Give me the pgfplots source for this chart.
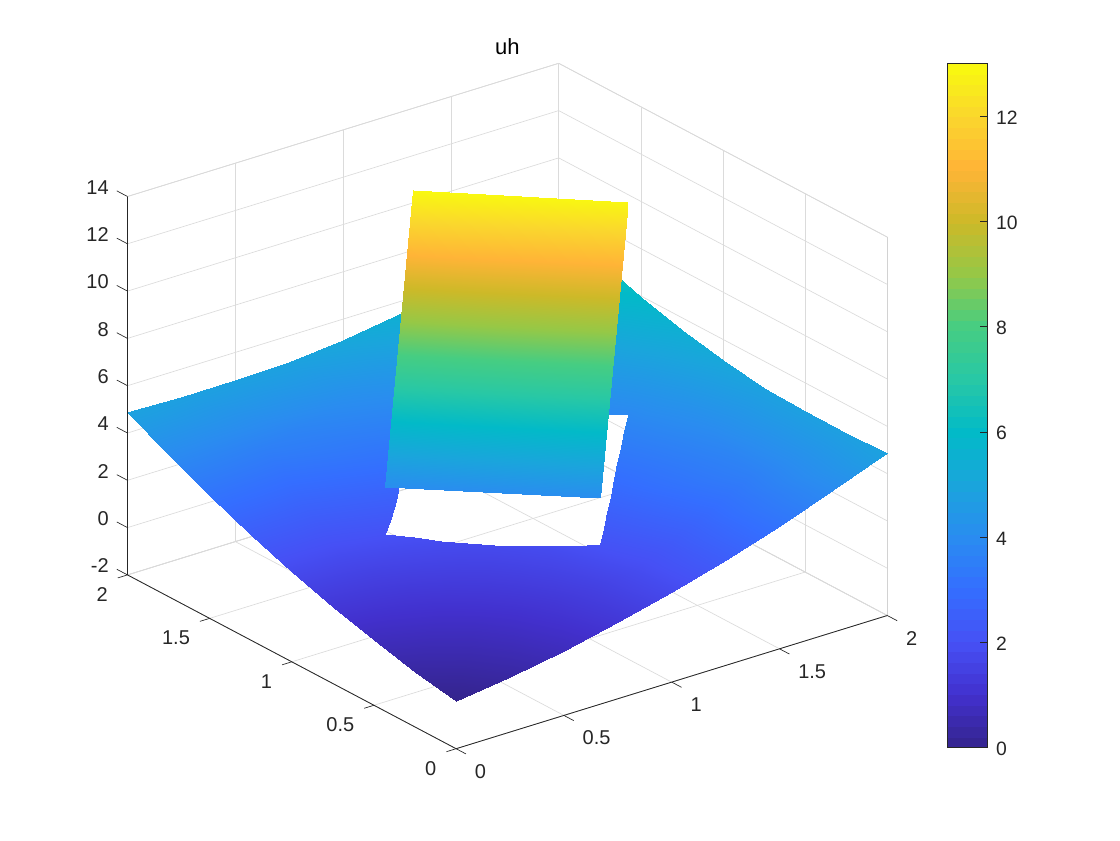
\documentclass[border=0pt]{standalone}
\usepackage{fontspec}
\setmainfont{Liberation Sans}
\usepackage{pgfplots}
\pgfplotsset{compat=1.18}
\definecolor{txt}{gray}{0.15}
\begin{document}
\begin{tikzpicture}
% 1 px of the reference = 0.75pt
\path[use as bounding box] (-95.625pt,47.475pt) rectangle (744.375pt,-582.525pt);
\begin{axis}[
  at={(0pt,0pt)}, anchor=north west,
  x={(161.7pt,49.95pt)}, y={(-123.225pt,65.175pt)}, z={(0pt,17.7375pt)},
  xmin=0, xmax=2, ymin=0, ymax=2, zmin=-2, zmax=14,
  xtick={0,0.5,1,1.5,2}, ytick={0,0.5,1,1.5,2}, ztick={-2,0,...,14},
  clip=false,
  grid=major,
  grid style={line width=0.5pt, gray!28},
  axis line style={line width=0.5pt, gray!35},
  xtick pos=left, ytick pos=left, ztick pos=left,
  major tick length=0pt,
  tick style={draw=none},
  tick label style={font=\fontsize{15}{17}\selectfont, text=txt, inner sep=0pt},
  x tick label style={anchor=west, xshift=13.9pt, yshift=-16.9pt},
  y tick label style={anchor=east, xshift=-14.6pt, yshift=-14.6pt},
  z tick label style={anchor=east, xshift=-13.9pt, yshift=6.8pt},
  /pgf/number format/assume math mode=true,
  title={uh},
  title style={font=\fontsize{16.5}{18}\selectfont, yshift=-3pt},
  point meta min=0, point meta max=13,
  colormap={parula}{
    rgb255=(52,36,140) rgb255=(66,48,205) rgb255=(70,80,245) rgb255=(52,110,255)
    rgb255=(42,140,240) rgb255=(26,165,220) rgb255=(2,186,200) rgb255=(40,200,165)
    rgb255=(70,205,130) rgb255=(150,200,70) rgb255=(205,185,40) rgb255=(255,180,55)
    rgb255=(250,215,45) rgb255=(249,251,14)
  },
  colorbar sampled,
  colorbar style={
    samples=65,
    at={(parent axis.north east)}, anchor=north west, xshift=36.5pt,
    scale only axis, width=30pt, height=513.3pt,
    ytick={0,2,...,12},
    ytick pos=right, ytick align=inside,
    major tick length=5.5pt,
    axis line style={txt, line width=0.6pt},
    tick style={draw=txt, line width=0.5pt},
    tick label style={font=\fontsize{14.5}{16}\selectfont, text=txt, xshift=3pt, yshift=-1pt},
    /pgf/number format/assume math mode=true,
  },
]
% outer surface: ring around the hole, outer edge / middle / edge of the hole
\addplot3[surf, shader=interp, mesh/ordering=x varies] table {
0 0 0
.25 0 .33
.5 0 .74
.75 0 1.23
1 0 1.80
1.25 0 2.45
1.5 0 3.18
1.75 0 3.99
2 0 4.88
2 .25 4.80
2 .5 4.82
2 .75 4.87
2 1 5.11
2 1.25 5.47
2 1.5 5.96
2 1.75 6.57
2 2 7.30
1.75 2 6.57
1.5 2 5.96
1.25 2 5.47
1 2 5.11
.75 2 4.87
.5 2 4.82
.25 2 4.80
0 2 4.88
0 1.75 3.99
0 1.5 3.18
0 1.25 2.45
0 1 1.80
0 .75 1.23
0 .5 .74
0 .25 .33
0 0 0

.37 .37 .86
.53 .335 1.03
.69 .30 1.26
.85 .265 1.53
1.01 .23 1.86
1.17 .265 2.24
1.33 .30 2.66
1.49 .337 3.10
1.65 .37 3.58
1.685 .533 3.73
1.72 .694 3.93
1.755 .855 4.17
1.79 1.015 4.46
1.755 1.175 4.59
1.72 1.334 4.78
1.687 1.493 5.02
1.65 1.65 5.30
1.493 1.687 5.02
1.334 1.72 4.78
1.175 1.755 4.59
1.015 1.79 4.46
.855 1.755 4.17
.694 1.72 3.93
.533 1.685 3.73
.37 1.65 3.58
.337 1.49 3.10
.30 1.33 2.66
.265 1.17 2.24
.23 1.01 1.86
.265 .85 1.53
.30 .69 1.26
.335 .53 1.03
.37 .37 .86

.74 .74 1.81
.81 .67 1.83
.88 .60 1.87
.95 .53 1.96
1.02 .46 2.08
1.09 .531 2.31
1.16 .603 2.53
1.23 .674 2.76
1.30 .745 2.99
1.37 .816 3.21
1.44 .888 3.44
1.51 .959 3.66
1.58 1.03 3.89
1.511 1.099 3.84
1.443 1.168 3.80
1.374 1.236 3.77
1.305 1.305 3.75
1.236 1.374 3.77
1.168 1.443 3.80
1.099 1.511 3.84
1.03 1.58 3.89
.959 1.51 3.66
.888 1.44 3.43
.816 1.37 3.20
.745 1.30 2.96
.674 1.23 2.73
.603 1.16 2.50
.531 1.09 2.27
.45 1.025 2.04
.53 .95 1.95
.60 .88 1.87
.67 .81 1.83
.74 .74 1.81
};
% inner patch
\addplot3[surf, shader=interp, mesh/ordering=x varies] table {
.45 1.025 4.03
1.02 .46 4.05

1.01 1.59 12.95
1.58 1.03 12.87
};
% front axis lines and their ticks
\addplot3[txt, line width=0.6pt, forget plot] coordinates {(0,2,14) (0,2,-2) (0,0,-2) (2,0,-2)};
\addplot3[txt, line width=0.5pt, forget plot, empty line=jump] coordinates {
(0,0,-2) (0,-.06,-2)

(.5,0,-2) (.5,-.06,-2)

(1,0,-2) (1,-.06,-2)

(1.5,0,-2) (1.5,-.06,-2)

(2,0,-2) (2,-.06,-2)

(0,0,-2) (-.045,0,-2)

(0,.5,-2) (-.045,.5,-2)

(0,1,-2) (-.045,1,-2)

(0,1.5,-2) (-.045,1.5,-2)

(0,2,-2) (-.045,2,-2)

(0,2,-2) (0,2.065,-2)

(0,2,0) (0,2.065,0)

(0,2,2) (0,2.065,2)

(0,2,4) (0,2.065,4)

(0,2,6) (0,2.065,6)

(0,2,8) (0,2.065,8)

(0,2,10) (0,2.065,10)

(0,2,12) (0,2.065,12)

(0,2,14) (0,2.065,14)
};
\end{axis}
\end{tikzpicture}
\end{document}
